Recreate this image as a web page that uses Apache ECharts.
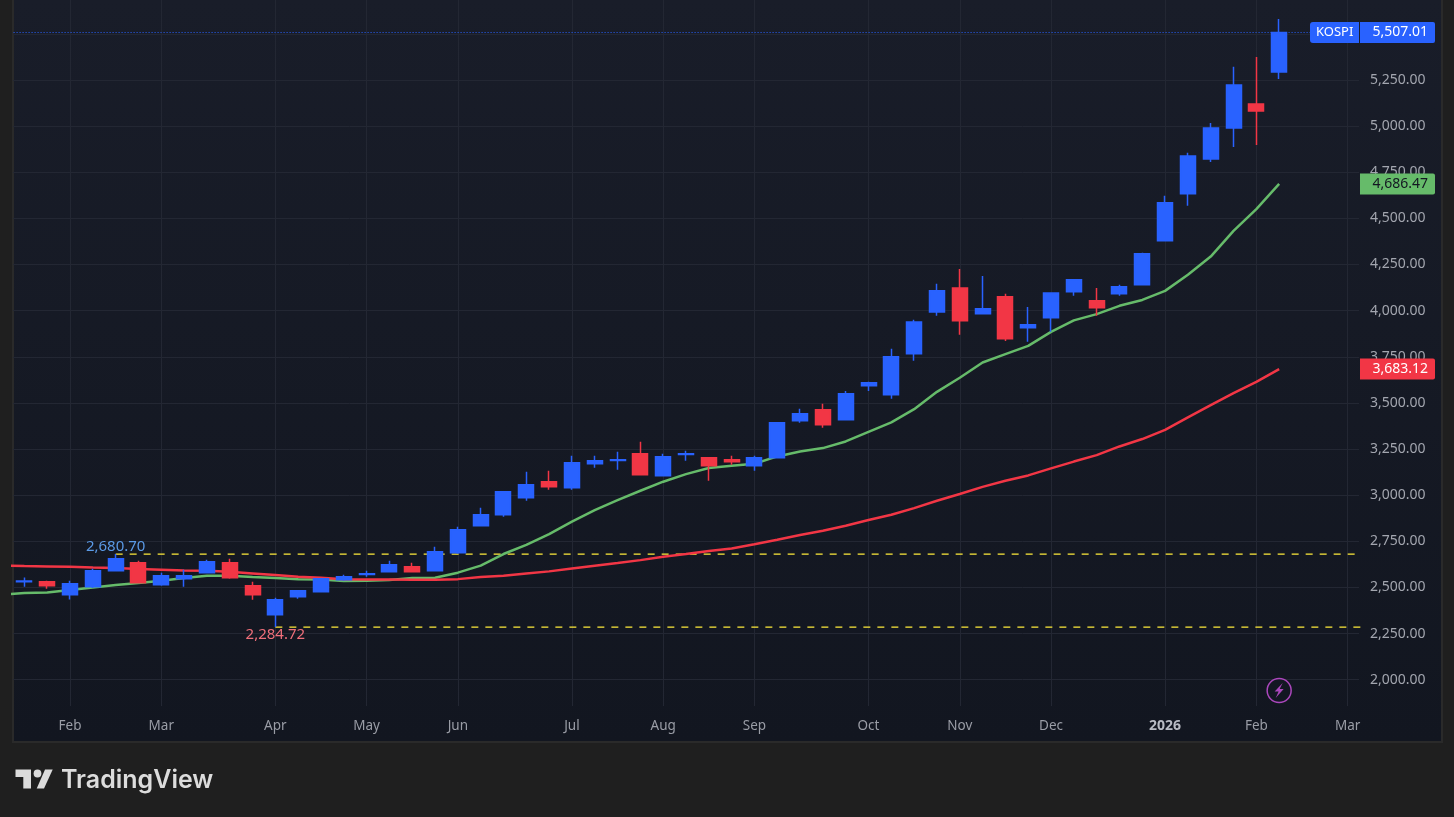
<!DOCTYPE html>
<html>
<head>
<meta charset="utf-8">
<title>KOSPI</title>
<script src="https://cdn.jsdelivr.net/npm/echarts@6/dist/echarts.min.js"></script>
<style>
  html, body { margin: 0; height: 100%; background: #1f1f1f; overflow: hidden; }
  #panel {
    position: absolute; left: 12px; top: -2px; width: 1427px; height: 741px;
    border: 2px solid #2a2a2a;
    background: linear-gradient(#191d29, #121620);
  }
  #chart { position: absolute; left: 0; top: 0; width: 1454px; height: 817px; }
</style>
</head>
<body>
<div id="panel"></div>
<div id="chart"></div>
<script>
// weekly candles, Monday dates. First and last entries sit just outside the visible axis
const weeks = [
  "2025-01-13", "2025-01-20", "2025-01-27", "2025-02-03", "2025-02-10", "2025-02-17", "2025-02-24",
  "2025-03-03", "2025-03-10", "2025-03-17", "2025-03-24", "2025-03-31", "2025-04-07", "2025-04-14",
  "2025-04-21", "2025-04-28", "2025-05-05", "2025-05-12", "2025-05-19", "2025-05-26", "2025-06-02",
  "2025-06-09", "2025-06-16", "2025-06-23", "2025-06-30", "2025-07-07", "2025-07-14", "2025-07-21",
  "2025-07-28", "2025-08-04", "2025-08-11", "2025-08-18", "2025-08-25", "2025-09-01", "2025-09-08",
  "2025-09-15", "2025-09-22", "2025-09-29", "2025-10-06", "2025-10-13", "2025-10-20", "2025-10-27",
  "2025-11-03", "2025-11-10", "2025-11-17", "2025-11-24", "2025-12-01", "2025-12-08", "2025-12-15",
  "2025-12-22", "2025-12-29", "2026-01-05", "2026-01-12", "2026-01-19", "2026-01-26", "2026-02-02",
  "2026-02-09", "2026-02-16", "2026-02-23", "2026-03-02", "2026-03-09",
];

const monthLabels = {
  "2025-02-03": "Feb", "2025-03-03": "Mar", "2025-04-07": "Apr", "2025-05-05": "May",
  "2025-06-02": "Jun", "2025-07-07": "Jul", "2025-08-04": "Aug", "2025-09-01": "Sep",
  "2025-10-06": "Oct", "2025-11-03": "Nov", "2025-12-01": "Dec", "2026-01-05": "2026",
  "2026-02-02": "Feb", "2026-03-02": "Mar",
};

// open, close, low, high from 2025-01-20 on
const candles = [
  [2531, 2535, 2504, 2554], [2531, 2509, 2493, 2536], [2460, 2520, 2435, 2536], [2504, 2590, 2497, 2601],
  [2590, 2655, 2590, 2681], [2634, 2525, 2525, 2645], [2515, 2563, 2509, 2580], [2547, 2563, 2504, 2596],
  [2580, 2639, 2580, 2650], [2634, 2552, 2547, 2655], [2509, 2460, 2433, 2531], [2352, 2433, 2285, 2444],
  [2450, 2482, 2439, 2482], [2477, 2547, 2477, 2547], [2542, 2558, 2536, 2569], [2570, 2574, 2558, 2590],
  [2585, 2623, 2585, 2645], [2612, 2585, 2585, 2634], [2590, 2693, 2590, 2720], [2688, 2813, 2682, 2829],
  [2834, 2894, 2834, 2932], [2894, 3018, 2883, 3018], [2986, 3056, 2970, 3127], [3073, 3045, 3029, 3132],
  [3040, 3175, 3029, 3213], [3170, 3186, 3148, 3213], [3188, 3192, 3138, 3235], [3224, 3110, 3110, 3289],
  [3105, 3208, 3105, 3224], [3221, 3224, 3186, 3240], [3203, 3159, 3078, 3203], [3192, 3181, 3165, 3213],
  [3159, 3203, 3132, 3213], [3203, 3392, 3203, 3392], [3403, 3441, 3392, 3468], [3463, 3381, 3365, 3495],
  [3408, 3549, 3408, 3565], [3593, 3609, 3565, 3614], [3544, 3750, 3522, 3793], [3766, 3939, 3728, 3950],
  [3993, 4107, 3972, 4145], [4123, 3945, 3869, 4226], [3983, 4010, 3983, 4188], [4075, 3847, 3836, 4091],
  [3907, 3923, 3831, 4020], [3961, 4096, 3885, 4096], [4102, 4167, 4080, 4172], [4053, 4015, 3972, 4123],
  [4091, 4129, 4080, 4140], [4140, 4308, 4140, 4313], [4378, 4584, 4378, 4622], [4633, 4838, 4568, 4855],
  [4822, 4990, 4806, 5017], [4990, 5223, 4887, 5321], [5120, 5082, 4898, 5375], [5293, 5507.01, 5255, 5580],
];

// moving averages from 2025-01-13 on
const maGreen = [
  2460, 2470, 2473, 2486, 2500, 2513, 2524, 2536, 2551, 2563, 2563, 2556, 2551, 2545, 2543, 2535,
  2536, 2540, 2551, 2552, 2580, 2618, 2681, 2731, 2789, 2857, 2919, 2973, 3024, 3073, 3114, 3147,
  3159, 3170, 3210, 3237, 3255, 3291, 3343, 3394, 3466, 3560, 3636, 3719, 3764, 3809, 3885, 3947,
  3981, 4026, 4058, 4107, 4194, 4293, 4432, 4550, 4686.47,
];
const maRed = [
  2619, 2616, 2614, 2612, 2608, 2605, 2600, 2596, 2592, 2590, 2585, 2576, 2567, 2558, 2552, 2545,
  2543, 2543, 2542, 2542, 2545, 2556, 2563, 2576, 2587, 2603, 2618, 2632, 2648, 2666, 2681, 2697,
  2711, 2734, 2758, 2784, 2807, 2834, 2865, 2894, 2930, 2970, 3006, 3045, 3078, 3107, 3145, 3182,
  3217, 3264, 3304, 3354, 3421, 3488, 3553, 3614, 3683.12,
];

const yTicks = [2000, 2250, 2500, 2750, 3000, 3250, 3500, 3750, 4000, 4250, 4500, 4750, 5000, 5250, 5500];

const lastPrice = 5507.01;
const highLevel = 2680.7;
const highWeek = "2025-02-17";
const lowLevel = 2284.72;
const lowWeek = "2025-04-07";

const UP = "#2962ff";
const DOWN = "#f23645";
const GREEN = "#66bb6a";
const FONT = "'Noto Sans', sans-serif";

const money = (v) => v.toLocaleString("en-US", { minimumFractionDigits: 2, maximumFractionDigits: 2 });
const levelFrom = (value, week) => weeks.map((w) => (w >= week ? value : null));
const showWeek = (i, w) => monthLabels[w] !== undefined;

const chart = echarts.init(document.getElementById("chart"));

const levelSeries = (data, color, dash, width) => ({
  type: "line",
  data,
  showSymbol: false,
  silent: true,
  z: 1,
  lineStyle: { color, width, type: dash },
});

chart.setOption({
  animation: false,
  backgroundColor: "transparent",
  grid: { left: 13, right: 95, top: 0, bottom: 111 },
  xAxis: {
    type: "category",
    data: weeks,
    min: 1,
    max: 59,
    axisLine: { show: false },
    axisTick: { show: false, alignWithLabel: true, interval: showWeek },
    axisLabel: {
      interval: showWeek,
      margin: 13,
      fontFamily: FONT,
      fontSize: 13.5,
      color: "#9a9da6",
      formatter: (w) => (monthLabels[w] === "2026" ? "{year|2026}" : monthLabels[w]),
      rich: { year: { fontFamily: FONT, fontSize: 14, fontWeight: "bold", color: "#b8bbc3" } },
    },
    splitLine: {
      show: true,
      alignWithLabel: true,
      interval: showWeek,
      lineStyle: { color: "#232733", width: 1 },
    },
  },
  yAxis: {
    type: "value",
    position: "right",
    scale: true,
    min: 1857.5,
    max: 5683.2,
    axisLine: { show: false },
    axisTick: { show: false, customValues: yTicks },
    axisLabel: {
      customValues: yTicks,
      margin: 11,
      fontFamily: FONT,
      fontSize: 14,
      color: "#a3a6af",
      formatter: (v) => money(v),
    },
    splitLine: { show: true, lineStyle: { color: "#232733", width: 1 } },
  },
  series: [
    levelSeries(levelFrom(lastPrice, weeks[0]), UP, [1, 2], 1),
    levelSeries(levelFrom(highLevel, highWeek), "#ffeb3b", [7, 7], 1.2),
    levelSeries(levelFrom(lowLevel, lowWeek), "#ffeb3b", [7, 7], 1.2),
    {
      type: "line",
      data: maGreen,
      showSymbol: false,
      z: 2,
      lineStyle: { color: GREEN, width: 2.5 },
    },
    {
      type: "line",
      data: maRed,
      showSymbol: false,
      z: 2,
      lineStyle: { color: DOWN, width: 2.5 },
    },
    {
      type: "candlestick",
      z: 3,
      barWidth: 15.5,
      data: [null].concat(candles).map((c) => c || "-"),
      itemStyle: { color: UP, color0: DOWN, borderColor: UP, borderColor0: DOWN, borderWidth: 1.5, borderJoin: "miter" },
      markPoint: {
        symbol: "circle",
        symbolSize: 0,
        silent: true,
        data: [
          {
            coord: [highWeek, highLevel],
            label: { show: true, position: "top", distance: 0, formatter: money(highLevel), fontFamily: FONT, fontSize: 15, color: "#5b9ae6" },
          },
          {
            coord: [lowWeek, lowLevel],
            label: { show: true, position: "bottom", distance: 0, formatter: money(lowLevel), fontFamily: FONT, fontSize: 15, color: "#ef6f7a" },
          },
        ],
      },
    },
  ],
});

// price tags on the axis follow the y scale
const tag = (value, bg, fg) => {
  const y = chart.convertToPixel({ yAxisIndex: 0 }, value);
  return [
    { type: "rect", z: 50, shape: { x: 1360, y: y - 10.5, width: 75, height: 21, r: [0, 2, 2, 0] }, style: { fill: bg } },
    { type: "text", z: 51, style: { x: 1428, y: y, text: money(value), fill: fg, font: "14px " + FONT, align: "right", verticalAlign: "middle" } },
  ];
};

const lastY = chart.convertToPixel({ yAxisIndex: 0 }, lastPrice);
const boltX = chart.convertToPixel({ xAxisIndex: 0 }, weeks[56]);

chart.setOption({
  graphic: [
    { type: "rect", z: 50, shape: { x: 1310, y: lastY - 10.5, width: 49, height: 21, r: [3, 0, 0, 3] }, style: { fill: UP } },
    { type: "text", z: 51, style: { x: 1316, y: lastY, text: "KOSPI", fill: "#ffffff", font: "13px " + FONT, align: "left", verticalAlign: "middle" } },
    ...tag(lastPrice, UP, "#ffffff"),
    ...tag(4686.47, GREEN, "#131722"),
    ...tag(3683.12, DOWN, "#ffffff"),
    // lightning mark near the axis
    { type: "circle", z: 40, shape: { cx: boltX, cy: 690.5, r: 12 }, style: { fill: "#131722", stroke: "#ab47bc", lineWidth: 1.5 } },
    {
      type: "polygon", z: 41,
      shape: { points: [[boltX + 3.5, 683], [boltX - 4.5, 691.5], [boltX - 0.5, 691.5], [boltX - 3.5, 698], [boltX + 4.5, 689], [boltX + 0.5, 689]] },
      style: { fill: "#ab47bc" },
    },
    // TradingView logo
    {
      type: "polygon", z: 40,
      shape: { points: [[15.5, 769.5], [31, 769.5], [31, 788.5], [23.3, 788.5], [23.3, 777], [15.5, 777]] },
      style: { fill: "#dcdcdc" },
    },
    { type: "circle", z: 40, shape: { cx: 37.5, cy: 773.5, r: 3.9 }, style: { fill: "#dcdcdc" } },
    {
      type: "polygon", z: 40,
      shape: { points: [[45, 769.5], [52.7, 769.5], [44, 788.5], [36.7, 788.5]] },
      style: { fill: "#dcdcdc" },
    },
    { type: "text", z: 40, style: { x: 61, y: 780, text: "TradingView", fill: "#dcdcdc", font: "600 25px Inter, sans-serif", align: "left", verticalAlign: "middle" } },
  ],
});
</script>
</body>
</html>
